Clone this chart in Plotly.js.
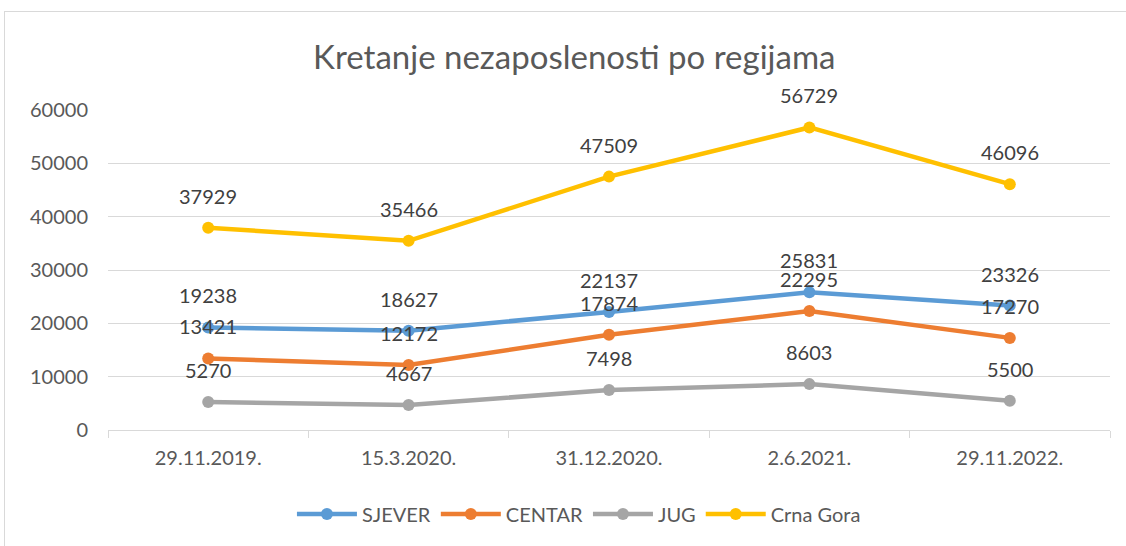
<!DOCTYPE html>
<html><head><meta charset="utf-8">
<script src="https://cdn.plot.ly/plotly-3.0.1.min.js"></script>
<style>html,body{margin:0;padding:0;background:#fff;overflow:hidden}
#frame{position:absolute;left:4px;top:11px;width:1200px;height:600px;border:1px solid #d9d9d9;pointer-events:none}</style>
</head><body>
<div id="chart" style="width:1126px;height:546px;"></div>
<div id="frame"></div>
<script>
const categories = ["29.11.2019.", "15.3.2020.", "31.12.2020.", "2.6.2021.", "29.11.2022."];
const sjever = [19238, 18627, 22137, 25831, 23326];
const centar = [13421, 12172, 17874, 22295, 17270];
const jug = [5270, 4667, 7498, 8603, 5500];
const crnaGora = [37929, 35466, 47509, 56729, 46096];
const seriesNames = ["SJEVER", "CENTAR", "JUG", "Crna Gora"];
const yTicks = [0, 10000, 20000, 30000, 40000, 50000, 60000];

const font = "Lato, 'Open Sans', sans-serif";
const series = [sjever, centar, jug, crnaGora];
const colors = ["#5B9BD5", "#ED7D31", "#A5A5A5", "#FFC000"];

const traces = series.map((vals, i) => ({
  type: "scatter", mode: "lines+markers", name: seriesNames[i],
  x: categories, y: vals,
  line: {color: colors[i], width: 4.5},
  marker: {color: colors[i], size: 12},
  cliponaxis: false
}));

const annotations = [];
series.forEach(vals => vals.forEach((v, j) => annotations.push({
  x: categories[j], y: v, xref: "x", yref: "y", text: String(v),
  showarrow: false, yshift: 32, font: {family: font, size: 20, color: "#404040"}
})));

const layout = {
  width: 1126, height: 546,
  margin: {l: 108, r: 16, t: 110, b: 116},
  paper_bgcolor: "#fff", plot_bgcolor: "#fff",
  title: {text: "Kretanje nezaposlenosti po regijama", x: 0.51, xanchor: "center", y: 0.895, yanchor: "middle",
          font: {family: font, size: 33, color: "#595959"}},
  font: {family: font, size: 19, color: "#595959"},
  xaxis: {type: "category", range: [-0.5, 4.5], showgrid: false, showline: true, linecolor: "#d9d9d9", linewidth: 1,
          ticks: "outside", tickson: "boundaries", ticklen: 7, tickcolor: "#d9d9d9", ticklabelstandoff: 10,
          tickfont: {family: font, size: 20, color: "#595959"}, zeroline: false, fixedrange: true},
  yaxis: {range: [0, 60000], tickvals: yTicks, ticktext: yTicks.map(String), showgrid: true, gridcolor: "#d9d9d9",
          gridwidth: 1, zeroline: false, showline: false, ticks: "", ticklabelstandoff: 19,
          tickfont: {family: font, size: 20, color: "#595959"}},
  legend: {orientation: "h", x: 0.47, xanchor: "center", y: -0.2625, yanchor: "middle",
           font: {family: font, size: 20, color: "#595959"}, itemwidth: 60, traceorder: "normal"},
  annotations: annotations,
  showlegend: true
};
Plotly.newPlot("chart", traces, layout, {displayModeBar: false, staticPlot: true});
</script>
</body></html>
